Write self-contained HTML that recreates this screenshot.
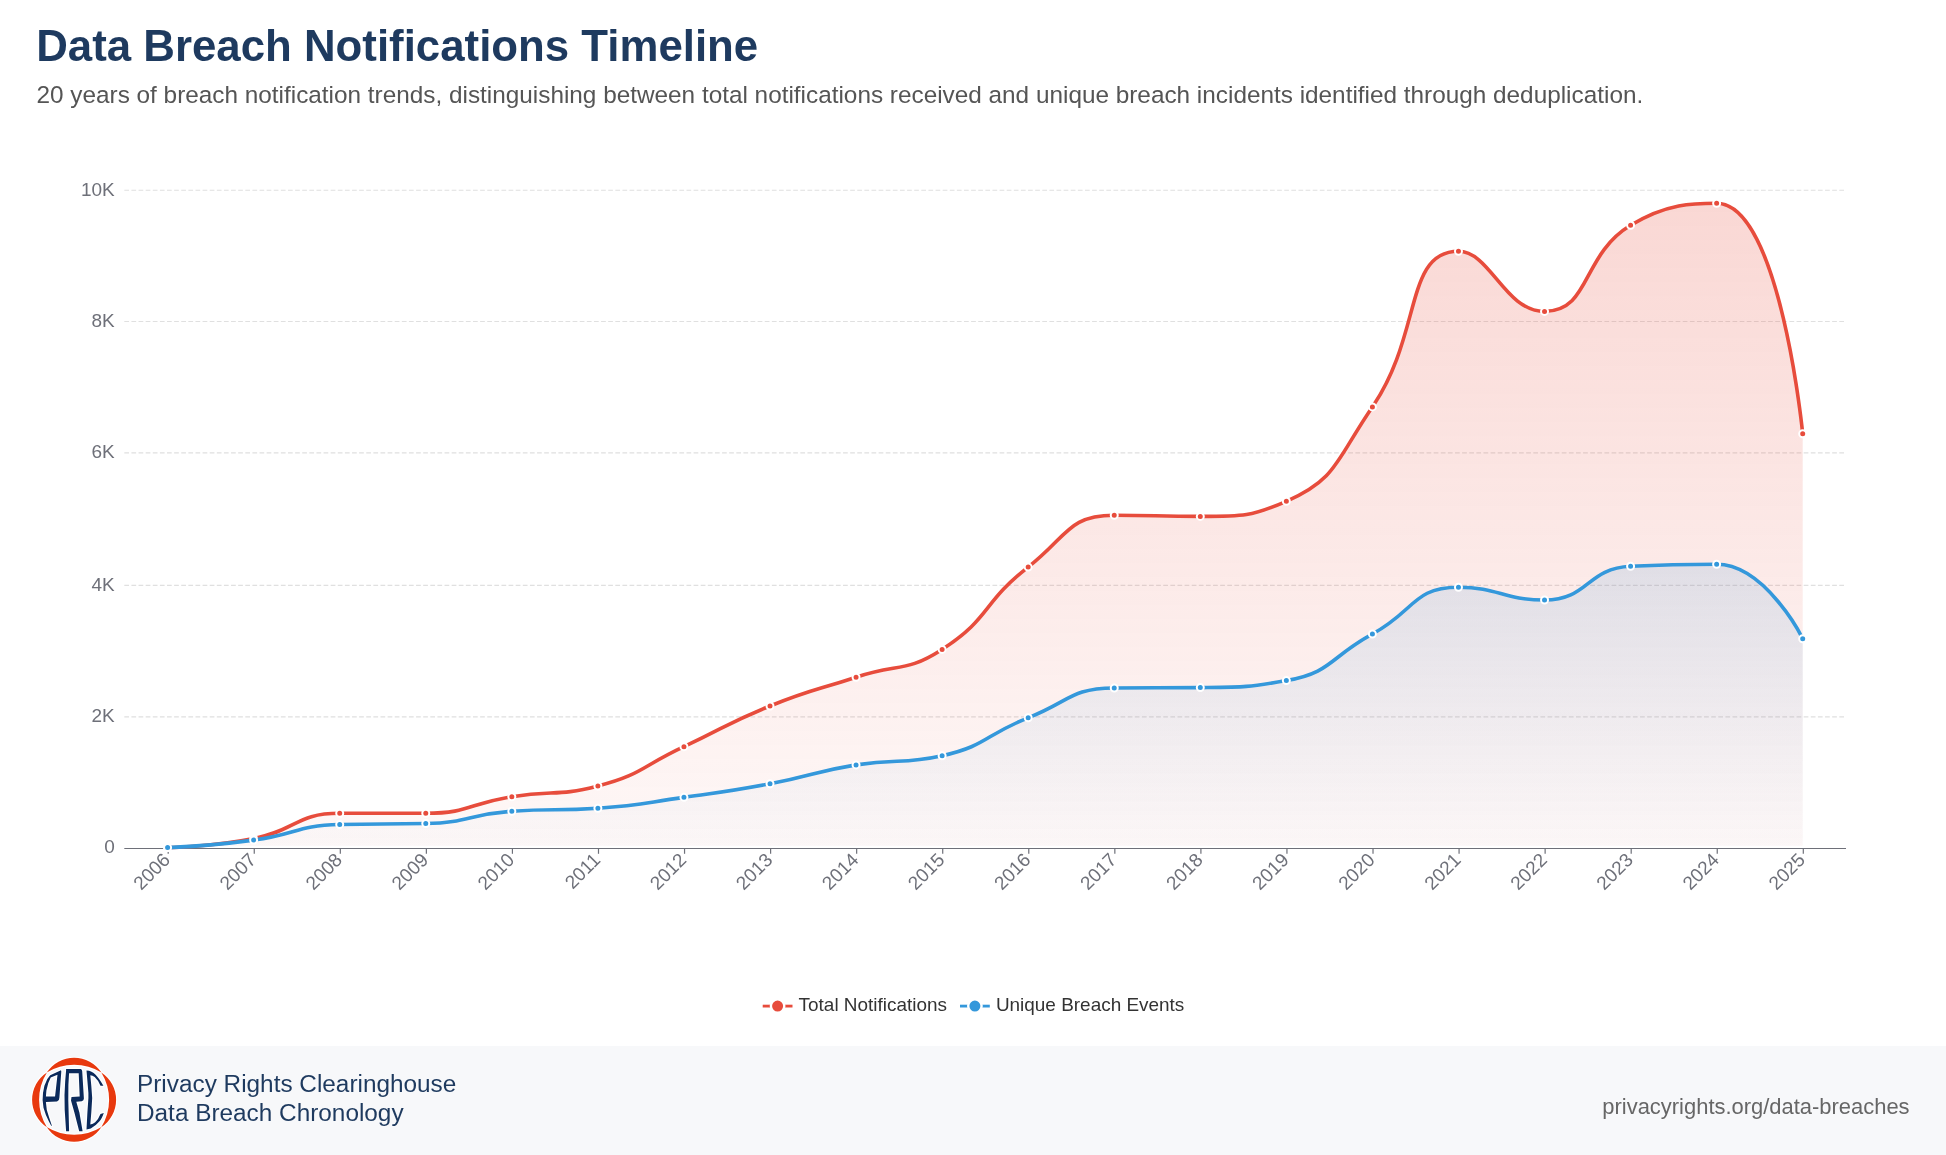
<!DOCTYPE html>
<html><head><meta charset="utf-8"><style>
html,body{margin:0;padding:0;background:#fff;}
body{width:1946px;height:1155px;position:relative;overflow:hidden;font-family:"Liberation Sans",sans-serif;}
svg{position:absolute;left:0;top:0;will-change:transform;font-family:"Liberation Sans",sans-serif;}
</style></head><body>
<svg width="1946" height="1155" viewBox="0 0 1946 1155">
<rect x="0" y="1046" width="1946" height="109" fill="#f7f8fa"/>
<g>
<g fill="#fff" stroke="#fff" stroke-width="2.2" stroke-linejoin="round">
<path d="M46.7,1072.6 A32.76,32.76 0 0 1 101.5,1072.6 A52.03,52.03 0 0 0 46.7,1072.6 Z"/>
<path d="M46.7,1127 A32.76,32.76 0 0 0 101.5,1127 A52.03,52.03 0 0 1 46.7,1127 Z"/>
<path d="M46.9,1072.4 A32.76,32.76 0 0 0 46.9,1127.2 A52.03,52.03 0 0 1 46.9,1072.4 Z"/>
<path d="M101.3,1072.4 A32.76,32.76 0 0 1 101.3,1127.2 A52.03,52.03 0 0 0 101.3,1072.4 Z"/>
</g>
<g fill="#e8390e">
<path d="M46.7,1072.6 A32.76,32.76 0 0 1 101.5,1072.6 A52.03,52.03 0 0 0 46.7,1072.6 Z"/>
<path d="M46.7,1127 A32.76,32.76 0 0 0 101.5,1127 A52.03,52.03 0 0 1 46.7,1127 Z"/>
<path d="M46.9,1072.4 A32.76,32.76 0 0 0 46.9,1127.2 A52.03,52.03 0 0 1 46.9,1072.4 Z"/>
<path d="M101.3,1072.4 A32.76,32.76 0 0 1 101.3,1127.2 A52.03,52.03 0 0 0 101.3,1072.4 Z"/>
</g>
<g fill="#fff" stroke="#fff" stroke-width="2.2" stroke-linejoin="round" fill-rule="evenodd">
<path d="M51.9,1125.8 L48.8,1116.4 L46.8,1110.1 L45.9,1101.9 L57,1101.4 L58.9,1099.9 L59.4,1097.4 L61.3,1071.5 L61.0,1070.3 L50.2,1075.2 L47.3,1079 L44.4,1085.8 L43.0,1093.1 L42.6,1100 L43.5,1107.7 L45.9,1114.9 L48.8,1121.2 L51.2,1125.8 Z M50.7,1077.6 L57.5,1074.7 L55.05,1096.4 L45.9,1096.4 L46.4,1090.6 L48.3,1082.9 Z"/>
<path d="M66.2,1068.9 L69.3,1068.9 L68.4,1085 L68.3,1100 L69.1,1131.3 L66.1,1131.3 L64.7,1110 L64.5,1095 L65.2,1081 Z"/>
<path d="M66.2,1068.9 L80.7,1068.9 Q82.1,1069.2 82.2,1071.3 L83.9,1098.5 Q83.9,1100.9 81.8,1101.2 L76.3,1101.7 L79.4,1112.5 L82.6,1131.3 L79.2,1131.3 L74.4,1112.5 L71.0,1100.4 L71.5,1096.9 L79.7,1096.4 L78.7,1073.3 L68.5,1073.3 Z"/>
<path d="M86.5,1070.4 Q92,1070.6 95.6,1074.7 Q99,1078 103.4,1085.8 L100.5,1085.8 Q98,1080 94.7,1077.1 Q92.5,1075.4 90.3,1075.2 L91.3,1085.8 L92.2,1098 L91.3,1112.5 L90.3,1124.6 Q93,1124 95.2,1122.2 Q98.5,1119 100.5,1113.9 L103.8,1113 Q101.5,1119.5 99.5,1121.2 Q96,1125.5 90.8,1128.4 L86.5,1129.4 L87.4,1112.5 L88.4,1098 L88.4,1093.1 L87.4,1081 Z"/>
</g>
<g fill="#0b2a5b" fill-rule="evenodd">
<path d="M51.9,1125.8 L48.8,1116.4 L46.8,1110.1 L45.9,1101.9 L57,1101.4 L58.9,1099.9 L59.4,1097.4 L61.3,1071.5 L61.0,1070.3 L50.2,1075.2 L47.3,1079 L44.4,1085.8 L43.0,1093.1 L42.6,1100 L43.5,1107.7 L45.9,1114.9 L48.8,1121.2 L51.2,1125.8 Z M50.7,1077.6 L57.5,1074.7 L55.05,1096.4 L45.9,1096.4 L46.4,1090.6 L48.3,1082.9 Z"/>
<path d="M66.2,1068.9 L69.3,1068.9 L68.4,1085 L68.3,1100 L69.1,1131.3 L66.1,1131.3 L64.7,1110 L64.5,1095 L65.2,1081 Z"/>
<path d="M66.2,1068.9 L80.7,1068.9 Q82.1,1069.2 82.2,1071.3 L83.9,1098.5 Q83.9,1100.9 81.8,1101.2 L76.3,1101.7 L79.4,1112.5 L82.6,1131.3 L79.2,1131.3 L74.4,1112.5 L71.0,1100.4 L71.5,1096.9 L79.7,1096.4 L78.7,1073.3 L68.5,1073.3 Z"/>
<path d="M86.5,1070.4 Q92,1070.6 95.6,1074.7 Q99,1078 103.4,1085.8 L100.5,1085.8 Q98,1080 94.7,1077.1 Q92.5,1075.4 90.3,1075.2 L91.3,1085.8 L92.2,1098 L91.3,1112.5 L90.3,1124.6 Q93,1124 95.2,1122.2 Q98.5,1119 100.5,1113.9 L103.8,1113 Q101.5,1119.5 99.5,1121.2 Q96,1125.5 90.8,1128.4 L86.5,1129.4 L87.4,1112.5 L88.4,1098 L88.4,1093.1 L87.4,1081 Z"/>
</g>
</g>
<text x="36.20" y="60.67" font-size="43.80" font-weight="bold" fill="#1e3a5f" text-anchor="start">Data Breach Notifications Timeline</text>
<text x="36.50" y="103.10" font-size="24.34" font-weight="normal" fill="#555" text-anchor="start">20 years of breach notification trends, distinguishing between total notifications received and unique breach incidents identified through deduplication.</text>
<text x="137.00" y="1092.10" font-size="24.35" font-weight="normal" fill="#1e3a5f" text-anchor="start">Privacy Rights Clearinghouse</text>
<text x="137.00" y="1121.30" font-size="24.35" font-weight="normal" fill="#1e3a5f" text-anchor="start">Data Breach Chronology</text>
<text x="1909.60" y="1113.90" font-size="21.95" font-weight="normal" fill="#666" text-anchor="end">privacyrights.org/data-breaches</text>
</svg>
<svg width="1946" height="1046" viewBox="0 0 1946 1046" >
<defs>
<linearGradient id="gr" x1="0" y1="0" x2="0" y2="1"><stop offset="0" stop-color="#e74c3c" stop-opacity="0.22"/><stop offset="1" stop-color="#e74c3c" stop-opacity="0.04"/></linearGradient>
<linearGradient id="gb" x1="0" y1="0" x2="0" y2="1"><stop offset="0" stop-color="#3498db" stop-opacity="0.14"/><stop offset="1" stop-color="#3498db" stop-opacity="0.01"/></linearGradient>
</defs>
<line x1="124.3" y1="190.25" x2="1846.0" y2="190.25" stroke="#e0e0e0" stroke-width="1.19" stroke-dasharray="4.744 2.372"/>
<line x1="124.3" y1="321.50" x2="1846.0" y2="321.50" stroke="#e0e0e0" stroke-width="1.19" stroke-dasharray="4.744 2.372"/>
<line x1="124.3" y1="452.95" x2="1846.0" y2="452.95" stroke="#e0e0e0" stroke-width="1.19" stroke-dasharray="4.744 2.372"/>
<line x1="124.3" y1="585.40" x2="1846.0" y2="585.40" stroke="#e0e0e0" stroke-width="1.19" stroke-dasharray="4.744 2.372"/>
<line x1="124.3" y1="716.85" x2="1846.0" y2="716.85" stroke="#e0e0e0" stroke-width="1.19" stroke-dasharray="4.744 2.372"/>
<g font-family="Liberation Sans, sans-serif" font-size="18.98" fill="#6e7079" text-anchor="end">
<text x="114.7" y="189.15" dominant-baseline="central">10K</text>
<text x="114.7" y="320.40" dominant-baseline="central">8K</text>
<text x="114.7" y="451.85" dominant-baseline="central">6K</text>
<text x="114.7" y="584.30" dominant-baseline="central">4K</text>
<text x="114.7" y="715.75" dominant-baseline="central">2K</text>
<text x="114.7" y="846.00" dominant-baseline="central">0</text>
</g>
<path d="M167.60 847.60 C167.60 847.60 211.40 847.02 253.66 838.60 C297.46 829.87 295.80 813.30 339.72 813.30 C381.85 813.30 383.14 813.30 425.77 813.30 C469.20 813.30 468.58 803.56 511.83 796.70 C554.63 789.91 556.74 796.70 597.89 786.00 C642.80 774.32 641.04 766.59 683.95 746.65 C727.10 726.59 725.95 723.78 770.01 706.00 C812.01 689.05 812.96 691.37 856.06 677.20 C899.02 663.07 904.97 673.16 942.12 649.40 C991.03 618.11 981.51 603.49 1028.18 567.10 C1067.57 536.39 1067.88 515.20 1114.24 515.20 C1153.94 515.20 1157.59 516.40 1200.30 516.40 C1243.65 516.40 1251.40 516.40 1286.35 501.30 C1337.46 479.22 1336.43 459.16 1372.41 406.90 C1422.49 334.16 1404.36 251.30 1458.47 251.30 C1490.41 251.30 1504.68 311.40 1544.53 311.40 C1590.74 311.40 1580.84 255.58 1630.59 225.30 C1666.90 203.20 1693.82 203.20 1716.64 203.20 C1779.88 203.20 1802.70 433.80 1802.70 433.80 L1802.70 845.80 L167.60 845.80 Z" fill="url(#gr)"/>
<path d="M167.60 847.60 C167.60 847.60 210.90 845.84 253.66 840.10 C296.95 834.29 296.34 825.47 339.72 824.50 C382.40 823.55 382.96 824.50 425.77 823.55 C469.02 822.59 468.60 814.23 511.83 811.20 C554.65 808.20 555.02 811.20 597.89 808.20 C641.08 805.18 641.01 803.44 683.95 797.35 C727.07 791.24 727.22 791.87 770.01 783.80 C813.28 775.64 812.65 771.98 856.06 764.90 C898.71 757.95 900.88 764.90 942.12 755.75 C986.94 745.81 984.46 735.01 1028.18 717.80 C1070.52 701.14 1069.99 688.42 1114.24 688.00 C1156.05 687.60 1157.34 688.00 1200.30 687.60 C1243.40 687.20 1246.02 687.60 1286.35 680.60 C1332.07 672.67 1329.40 657.33 1372.41 634.00 C1415.46 610.65 1412.90 587.25 1458.47 587.25 C1498.95 587.25 1502.80 600.00 1544.53 600.00 C1588.86 600.00 1586.03 568.45 1630.59 566.30 C1672.09 564.30 1679.57 564.30 1716.64 564.30 C1765.63 564.30 1802.70 638.70 1802.70 638.70 L1802.70 845.80 L167.60 845.80 Z" fill="url(#gb)"/>
<line x1="124.3" y1="848.50" x2="1846.0" y2="848.50" stroke="#6e7079" stroke-width="1.2"/>
<line x1="168.20" y1="848.50" x2="168.20" y2="853.80" stroke="#6e7079" stroke-width="1.2"/>
<line x1="254.26" y1="848.50" x2="254.26" y2="853.80" stroke="#6e7079" stroke-width="1.2"/>
<line x1="340.32" y1="848.50" x2="340.32" y2="853.80" stroke="#6e7079" stroke-width="1.2"/>
<line x1="426.37" y1="848.50" x2="426.37" y2="853.80" stroke="#6e7079" stroke-width="1.2"/>
<line x1="512.43" y1="848.50" x2="512.43" y2="853.80" stroke="#6e7079" stroke-width="1.2"/>
<line x1="598.49" y1="848.50" x2="598.49" y2="853.80" stroke="#6e7079" stroke-width="1.2"/>
<line x1="684.55" y1="848.50" x2="684.55" y2="853.80" stroke="#6e7079" stroke-width="1.2"/>
<line x1="770.61" y1="848.50" x2="770.61" y2="853.80" stroke="#6e7079" stroke-width="1.2"/>
<line x1="856.66" y1="848.50" x2="856.66" y2="853.80" stroke="#6e7079" stroke-width="1.2"/>
<line x1="942.72" y1="848.50" x2="942.72" y2="853.80" stroke="#6e7079" stroke-width="1.2"/>
<line x1="1028.78" y1="848.50" x2="1028.78" y2="853.80" stroke="#6e7079" stroke-width="1.2"/>
<line x1="1114.84" y1="848.50" x2="1114.84" y2="853.80" stroke="#6e7079" stroke-width="1.2"/>
<line x1="1200.90" y1="848.50" x2="1200.90" y2="853.80" stroke="#6e7079" stroke-width="1.2"/>
<line x1="1286.95" y1="848.50" x2="1286.95" y2="853.80" stroke="#6e7079" stroke-width="1.2"/>
<line x1="1373.01" y1="848.50" x2="1373.01" y2="853.80" stroke="#6e7079" stroke-width="1.2"/>
<line x1="1459.07" y1="848.50" x2="1459.07" y2="853.80" stroke="#6e7079" stroke-width="1.2"/>
<line x1="1545.13" y1="848.50" x2="1545.13" y2="853.80" stroke="#6e7079" stroke-width="1.2"/>
<line x1="1631.19" y1="848.50" x2="1631.19" y2="853.80" stroke="#6e7079" stroke-width="1.2"/>
<line x1="1717.24" y1="848.50" x2="1717.24" y2="853.80" stroke="#6e7079" stroke-width="1.2"/>
<line x1="1803.30" y1="848.50" x2="1803.30" y2="853.80" stroke="#6e7079" stroke-width="1.2"/>
<path d="M167.60 847.60 C167.60 847.60 211.40 847.02 253.66 838.60 C297.46 829.87 295.80 813.30 339.72 813.30 C381.85 813.30 383.14 813.30 425.77 813.30 C469.20 813.30 468.58 803.56 511.83 796.70 C554.63 789.91 556.74 796.70 597.89 786.00 C642.80 774.32 641.04 766.59 683.95 746.65 C727.10 726.59 725.95 723.78 770.01 706.00 C812.01 689.05 812.96 691.37 856.06 677.20 C899.02 663.07 904.97 673.16 942.12 649.40 C991.03 618.11 981.51 603.49 1028.18 567.10 C1067.57 536.39 1067.88 515.20 1114.24 515.20 C1153.94 515.20 1157.59 516.40 1200.30 516.40 C1243.65 516.40 1251.40 516.40 1286.35 501.30 C1337.46 479.22 1336.43 459.16 1372.41 406.90 C1422.49 334.16 1404.36 251.30 1458.47 251.30 C1490.41 251.30 1504.68 311.40 1544.53 311.40 C1590.74 311.40 1580.84 255.58 1630.59 225.30 C1666.90 203.20 1693.82 203.20 1716.64 203.20 C1779.88 203.20 1802.70 433.80 1802.70 433.80" fill="none" stroke="#e74c3c" stroke-width="3.6" stroke-linejoin="round"/>
<circle cx="167.60" cy="847.60" r="3.5" fill="#e74c3c" stroke="#fff" stroke-width="2.0"/>
<circle cx="253.66" cy="838.60" r="3.5" fill="#e74c3c" stroke="#fff" stroke-width="2.0"/>
<circle cx="339.72" cy="813.30" r="3.5" fill="#e74c3c" stroke="#fff" stroke-width="2.0"/>
<circle cx="425.77" cy="813.30" r="3.5" fill="#e74c3c" stroke="#fff" stroke-width="2.0"/>
<circle cx="511.83" cy="796.70" r="3.5" fill="#e74c3c" stroke="#fff" stroke-width="2.0"/>
<circle cx="597.89" cy="786.00" r="3.5" fill="#e74c3c" stroke="#fff" stroke-width="2.0"/>
<circle cx="683.95" cy="746.65" r="3.5" fill="#e74c3c" stroke="#fff" stroke-width="2.0"/>
<circle cx="770.01" cy="706.00" r="3.5" fill="#e74c3c" stroke="#fff" stroke-width="2.0"/>
<circle cx="856.06" cy="677.20" r="3.5" fill="#e74c3c" stroke="#fff" stroke-width="2.0"/>
<circle cx="942.12" cy="649.40" r="3.5" fill="#e74c3c" stroke="#fff" stroke-width="2.0"/>
<circle cx="1028.18" cy="567.10" r="3.5" fill="#e74c3c" stroke="#fff" stroke-width="2.0"/>
<circle cx="1114.24" cy="515.20" r="3.5" fill="#e74c3c" stroke="#fff" stroke-width="2.0"/>
<circle cx="1200.30" cy="516.40" r="3.5" fill="#e74c3c" stroke="#fff" stroke-width="2.0"/>
<circle cx="1286.35" cy="501.30" r="3.5" fill="#e74c3c" stroke="#fff" stroke-width="2.0"/>
<circle cx="1372.41" cy="406.90" r="3.5" fill="#e74c3c" stroke="#fff" stroke-width="2.0"/>
<circle cx="1458.47" cy="251.30" r="3.5" fill="#e74c3c" stroke="#fff" stroke-width="2.0"/>
<circle cx="1544.53" cy="311.40" r="3.5" fill="#e74c3c" stroke="#fff" stroke-width="2.0"/>
<circle cx="1630.59" cy="225.30" r="3.5" fill="#e74c3c" stroke="#fff" stroke-width="2.0"/>
<circle cx="1716.64" cy="203.20" r="3.5" fill="#e74c3c" stroke="#fff" stroke-width="2.0"/>
<circle cx="1802.70" cy="433.80" r="3.5" fill="#e74c3c" stroke="#fff" stroke-width="2.0"/>
<path d="M167.60 847.60 C167.60 847.60 210.90 845.84 253.66 840.10 C296.95 834.29 296.34 825.47 339.72 824.50 C382.40 823.55 382.96 824.50 425.77 823.55 C469.02 822.59 468.60 814.23 511.83 811.20 C554.65 808.20 555.02 811.20 597.89 808.20 C641.08 805.18 641.01 803.44 683.95 797.35 C727.07 791.24 727.22 791.87 770.01 783.80 C813.28 775.64 812.65 771.98 856.06 764.90 C898.71 757.95 900.88 764.90 942.12 755.75 C986.94 745.81 984.46 735.01 1028.18 717.80 C1070.52 701.14 1069.99 688.42 1114.24 688.00 C1156.05 687.60 1157.34 688.00 1200.30 687.60 C1243.40 687.20 1246.02 687.60 1286.35 680.60 C1332.07 672.67 1329.40 657.33 1372.41 634.00 C1415.46 610.65 1412.90 587.25 1458.47 587.25 C1498.95 587.25 1502.80 600.00 1544.53 600.00 C1588.86 600.00 1586.03 568.45 1630.59 566.30 C1672.09 564.30 1679.57 564.30 1716.64 564.30 C1765.63 564.30 1802.70 638.70 1802.70 638.70" fill="none" stroke="#3498db" stroke-width="3.6" stroke-linejoin="round"/>
<circle cx="167.60" cy="847.60" r="3.5" fill="#3498db" stroke="#fff" stroke-width="2.0"/>
<circle cx="253.66" cy="840.10" r="3.5" fill="#3498db" stroke="#fff" stroke-width="2.0"/>
<circle cx="339.72" cy="824.50" r="3.5" fill="#3498db" stroke="#fff" stroke-width="2.0"/>
<circle cx="425.77" cy="823.55" r="3.5" fill="#3498db" stroke="#fff" stroke-width="2.0"/>
<circle cx="511.83" cy="811.20" r="3.5" fill="#3498db" stroke="#fff" stroke-width="2.0"/>
<circle cx="597.89" cy="808.20" r="3.5" fill="#3498db" stroke="#fff" stroke-width="2.0"/>
<circle cx="683.95" cy="797.35" r="3.5" fill="#3498db" stroke="#fff" stroke-width="2.0"/>
<circle cx="770.01" cy="783.80" r="3.5" fill="#3498db" stroke="#fff" stroke-width="2.0"/>
<circle cx="856.06" cy="764.90" r="3.5" fill="#3498db" stroke="#fff" stroke-width="2.0"/>
<circle cx="942.12" cy="755.75" r="3.5" fill="#3498db" stroke="#fff" stroke-width="2.0"/>
<circle cx="1028.18" cy="717.80" r="3.5" fill="#3498db" stroke="#fff" stroke-width="2.0"/>
<circle cx="1114.24" cy="688.00" r="3.5" fill="#3498db" stroke="#fff" stroke-width="2.0"/>
<circle cx="1200.30" cy="687.60" r="3.5" fill="#3498db" stroke="#fff" stroke-width="2.0"/>
<circle cx="1286.35" cy="680.60" r="3.5" fill="#3498db" stroke="#fff" stroke-width="2.0"/>
<circle cx="1372.41" cy="634.00" r="3.5" fill="#3498db" stroke="#fff" stroke-width="2.0"/>
<circle cx="1458.47" cy="587.25" r="3.5" fill="#3498db" stroke="#fff" stroke-width="2.0"/>
<circle cx="1544.53" cy="600.00" r="3.5" fill="#3498db" stroke="#fff" stroke-width="2.0"/>
<circle cx="1630.59" cy="566.30" r="3.5" fill="#3498db" stroke="#fff" stroke-width="2.0"/>
<circle cx="1716.64" cy="564.30" r="3.5" fill="#3498db" stroke="#fff" stroke-width="2.0"/>
<circle cx="1802.70" cy="638.70" r="3.5" fill="#3498db" stroke="#fff" stroke-width="2.0"/>
<g font-family="Liberation Sans, sans-serif" font-size="18.98" fill="#6e7079" text-anchor="end">
<text transform="translate(166.60 856.50) rotate(-45)" dominant-baseline="central">2006</text>
<text transform="translate(252.66 856.50) rotate(-45)" dominant-baseline="central">2007</text>
<text transform="translate(338.72 856.50) rotate(-45)" dominant-baseline="central">2008</text>
<text transform="translate(424.77 856.50) rotate(-45)" dominant-baseline="central">2009</text>
<text transform="translate(510.83 856.50) rotate(-45)" dominant-baseline="central">2010</text>
<text transform="translate(596.89 856.50) rotate(-45)" dominant-baseline="central">2011</text>
<text transform="translate(682.95 856.50) rotate(-45)" dominant-baseline="central">2012</text>
<text transform="translate(769.01 856.50) rotate(-45)" dominant-baseline="central">2013</text>
<text transform="translate(855.06 856.50) rotate(-45)" dominant-baseline="central">2014</text>
<text transform="translate(941.12 856.50) rotate(-45)" dominant-baseline="central">2015</text>
<text transform="translate(1027.18 856.50) rotate(-45)" dominant-baseline="central">2016</text>
<text transform="translate(1113.24 856.50) rotate(-45)" dominant-baseline="central">2017</text>
<text transform="translate(1199.30 856.50) rotate(-45)" dominant-baseline="central">2018</text>
<text transform="translate(1285.35 856.50) rotate(-45)" dominant-baseline="central">2019</text>
<text transform="translate(1371.41 856.50) rotate(-45)" dominant-baseline="central">2020</text>
<text transform="translate(1457.47 856.50) rotate(-45)" dominant-baseline="central">2021</text>
<text transform="translate(1543.53 856.50) rotate(-45)" dominant-baseline="central">2022</text>
<text transform="translate(1629.59 856.50) rotate(-45)" dominant-baseline="central">2023</text>
<text transform="translate(1715.64 856.50) rotate(-45)" dominant-baseline="central">2024</text>
<text transform="translate(1801.70 856.50) rotate(-45)" dominant-baseline="central">2025</text>
</g>
<g>
<line x1="762.7" y1="1006.1" x2="792.5" y2="1006.1" stroke="#e74c3c" stroke-width="2.8"/><circle cx="777.6" cy="1006.1" r="6.7" fill="#e74c3c" stroke="#fff" stroke-width="2.4"/><text x="798.6" y="1004.5" dominant-baseline="central" font-family="Liberation Sans, sans-serif" font-size="18.96" fill="#333">Total Notifications</text>
<line x1="960.0" y1="1006.1" x2="989.8" y2="1006.1" stroke="#3498db" stroke-width="2.8"/><circle cx="974.9" cy="1006.1" r="6.7" fill="#3498db" stroke="#fff" stroke-width="2.4"/><text x="995.9" y="1004.5" dominant-baseline="central" font-family="Liberation Sans, sans-serif" font-size="18.96" fill="#333">Unique Breach Events</text>
</g>
</svg>
</body></html>
